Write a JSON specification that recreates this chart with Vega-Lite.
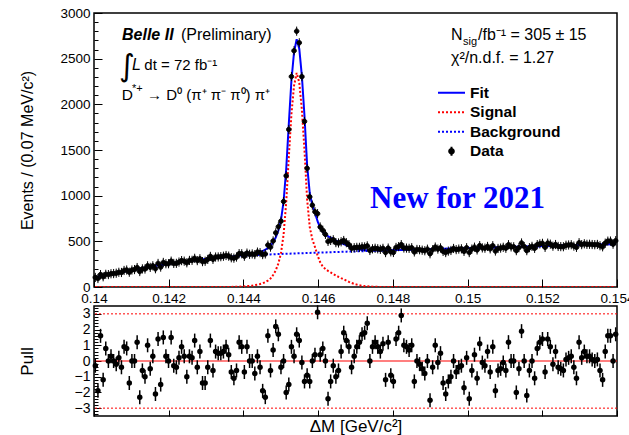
{
  "$schema": "https://vega.github.io/schema/vega-lite/v6.json",
  "background": "white",
  "padding": {"left": 17, "top": 5, "right": 0, "bottom": 0},
  "datasets": {
    "bins": [
      {"x":0.140035,"n":105,"p":-0.3,"Fit":108,"Signal":0,"Background":108},
      {"x":0.140105,"n":93,"p":-1.9,"Fit":113,"Signal":0,"Background":113},
      {"x":0.140175,"n":136,"p":1.6,"Fit":119,"Signal":0,"Background":119},
      {"x":0.140245,"n":112,"p":-1.2,"Fit":125,"Signal":0,"Background":125},
      {"x":0.140315,"n":139,"p":0.8,"Fit":130,"Signal":0,"Background":130},
      {"x":0.140385,"n":136,"p":0.0,"Fit":136,"Signal":0,"Background":136},
      {"x":0.140455,"n":145,"p":0.3,"Fit":141,"Signal":0,"Background":141},
      {"x":0.140525,"n":147,"p":0.0,"Fit":147,"Signal":0,"Background":147},
      {"x":0.140595,"n":151,"p":-0.2,"Fit":153,"Signal":0,"Background":153},
      {"x":0.140665,"n":161,"p":0.2,"Fit":158,"Signal":0,"Background":158},
      {"x":0.140735,"n":159,"p":-0.4,"Fit":164,"Signal":0,"Background":164},
      {"x":0.140805,"n":181,"p":0.9,"Fit":169,"Signal":0,"Background":169},
      {"x":0.140875,"n":186,"p":0.8,"Fit":175,"Signal":0,"Background":175},
      {"x":0.140945,"n":162,"p":-1.4,"Fit":181,"Signal":0,"Background":181},
      {"x":0.141015,"n":186,"p":0.0,"Fit":186,"Signal":0,"Background":186},
      {"x":0.141085,"n":191,"p":0.0,"Fit":191,"Signal":0,"Background":191},
      {"x":0.141155,"n":213,"p":1.2,"Fit":196,"Signal":0,"Background":196},
      {"x":0.141225,"n":169,"p":-2.3,"Fit":202,"Signal":0,"Background":202},
      {"x":0.141295,"n":198,"p":-0.6,"Fit":207,"Signal":0,"Background":207},
      {"x":0.141365,"n":197,"p":-1.0,"Fit":212,"Signal":0,"Background":212},
      {"x":0.141435,"n":232,"p":1.0,"Fit":217,"Signal":0,"Background":217},
      {"x":0.141505,"n":215,"p":-0.5,"Fit":222,"Signal":0,"Background":222},
      {"x":0.141575,"n":232,"p":0.3,"Fit":227,"Signal":0,"Background":227},
      {"x":0.141645,"n":200,"p":-2.1,"Fit":232,"Signal":0,"Background":232},
      {"x":0.141715,"n":258,"p":1.4,"Fit":236,"Signal":0,"Background":236},
      {"x":0.141785,"n":218,"p":-1.5,"Fit":241,"Signal":0,"Background":241},
      {"x":0.141855,"n":269,"p":1.5,"Fit":245,"Signal":0,"Background":245},
      {"x":0.141925,"n":255,"p":0.3,"Fit":250,"Signal":0,"Background":250},
      {"x":0.141995,"n":255,"p":0.0,"Fit":255,"Signal":0,"Background":255},
      {"x":0.142065,"n":283,"p":1.5,"Fit":259,"Signal":0,"Background":259},
      {"x":0.142135,"n":258,"p":-0.3,"Fit":263,"Signal":0,"Background":263},
      {"x":0.142205,"n":259,"p":-0.4,"Fit":266,"Signal":0,"Background":266},
      {"x":0.142275,"n":273,"p":0.2,"Fit":270,"Signal":0,"Background":270},
      {"x":0.142345,"n":289,"p":0.9,"Fit":274,"Signal":0,"Background":274},
      {"x":0.142415,"n":283,"p":0.3,"Fit":278,"Signal":0,"Background":278},
      {"x":0.142485,"n":265,"p":-1.0,"Fit":282,"Signal":0,"Background":282},
      {"x":0.142555,"n":291,"p":0.3,"Fit":286,"Signal":0,"Background":286},
      {"x":0.142625,"n":292,"p":0.2,"Fit":289,"Signal":0,"Background":289},
      {"x":0.142695,"n":314,"p":1.3,"Fit":292,"Signal":0,"Background":292},
      {"x":0.142765,"n":289,"p":-0.4,"Fit":296,"Signal":0,"Background":296},
      {"x":0.142835,"n":309,"p":0.6,"Fit":299,"Signal":0,"Background":299},
      {"x":0.142905,"n":278,"p":-1.4,"Fit":302,"Signal":0,"Background":302},
      {"x":0.142975,"n":282,"p":-1.4,"Fit":306,"Signal":0,"Background":306},
      {"x":0.143045,"n":302,"p":-0.4,"Fit":309,"Signal":0,"Background":309},
      {"x":0.143115,"n":335,"p":1.3,"Fit":312,"Signal":0,"Background":312},
      {"x":0.143185,"n":303,"p":-0.6,"Fit":314,"Signal":0,"Background":314},
      {"x":0.143255,"n":328,"p":0.6,"Fit":317,"Signal":0,"Background":317},
      {"x":0.143325,"n":329,"p":0.5,"Fit":320,"Signal":0,"Background":320},
      {"x":0.143395,"n":332,"p":0.5,"Fit":323,"Signal":0,"Background":323},
      {"x":0.143465,"n":337,"p":0.6,"Fit":326,"Signal":0,"Background":326},
      {"x":0.143535,"n":345,"p":0.9,"Fit":329,"Signal":1,"Background":328},
      {"x":0.143605,"n":338,"p":0.4,"Fit":331,"Signal":1,"Background":330},
      {"x":0.143675,"n":320,"p":-0.7,"Fit":333,"Signal":1,"Background":332},
      {"x":0.143745,"n":316,"p":-1.1,"Fit":336,"Signal":2,"Background":334},
      {"x":0.143815,"n":328,"p":-0.6,"Fit":339,"Signal":3,"Background":336},
      {"x":0.143885,"n":365,"p":1.2,"Fit":343,"Signal":4,"Background":339},
      {"x":0.143955,"n":364,"p":0.9,"Fit":347,"Signal":6,"Background":341},
      {"x":0.144025,"n":337,"p":-0.7,"Fit":350,"Signal":7,"Background":343},
      {"x":0.144095,"n":371,"p":0.9,"Fit":354,"Signal":10,"Background":344},
      {"x":0.144165,"n":358,"p":0.0,"Fit":358,"Signal":12,"Background":346},
      {"x":0.144235,"n":362,"p":0.0,"Fit":362,"Signal":15,"Background":347},
      {"x":0.144305,"n":355,"p":-0.8,"Fit":370,"Signal":21,"Background":349},
      {"x":0.144375,"n":382,"p":0.3,"Fit":376,"Signal":26,"Background":350},
      {"x":0.144445,"n":376,"p":-0.4,"Fit":384,"Signal":32,"Background":352},
      {"x":0.144515,"n":355,"p":-1.9,"Fit":393,"Signal":40,"Background":353},
      {"x":0.144585,"n":362,"p":-2.3,"Fit":408,"Signal":53,"Background":355},
      {"x":0.144655,"n":459,"p":1.6,"Fit":426,"Signal":70,"Background":356},
      {"x":0.144725,"n":437,"p":-0.6,"Fit":450,"Signal":93,"Background":357},
      {"x":0.144795,"n":504,"p":0.7,"Fit":489,"Signal":131,"Background":358},
      {"x":0.144865,"n":593,"p":2.2,"Fit":542,"Signal":182,"Background":360},
      {"x":0.144935,"n":660,"p":1.7,"Fit":618,"Signal":257,"Background":361},
      {"x":0.145005,"n":721,"p":-0.4,"Fit":732,"Signal":370,"Background":362},
      {"x":0.145075,"n":936,"p":0.0,"Fit":936,"Signal":573,"Background":363},
      {"x":0.145145,"n":1218,"p":-2.0,"Fit":1290,"Signal":926,"Background":364},
      {"x":0.145215,"n":1725,"p":-1.5,"Fit":1788,"Signal":1423,"Background":365},
      {"x":0.145285,"n":2304,"p":0.9,"Fit":2261,"Signal":1895,"Background":366},
      {"x":0.145355,"n":2587,"p":0.3,"Fit":2572,"Signal":2205,"Background":367},
      {"x":0.145425,"n":2801,"p":1.7,"Fit":2712,"Signal":2344,"Background":368},
      {"x":0.145495,"n":2674,"p":1.3,"Fit":2608,"Signal":2239,"Background":369},
      {"x":0.145565,"n":2303,"p":-0.1,"Fit":2308,"Signal":1938,"Background":370},
      {"x":0.145635,"n":1813,"p":-1.3,"Fit":1869,"Signal":1498,"Background":371},
      {"x":0.145705,"n":1299,"p":-0.9,"Fit":1332,"Signal":960,"Background":372},
      {"x":0.145775,"n":987,"p":-1.3,"Fit":1029,"Signal":656,"Background":373},
      {"x":0.145845,"n":896,"p":0.0,"Fit":896,"Signal":522,"Background":374},
      {"x":0.145915,"n":824,"p":0.4,"Fit":813,"Signal":438,"Background":375},
      {"x":0.145985,"n":803,"p":3.1,"Fit":720,"Signal":344,"Background":376},
      {"x":0.146055,"n":657,"p":0.4,"Fit":647,"Signal":270,"Background":377},
      {"x":0.146125,"n":621,"p":0.8,"Fit":601,"Signal":223,"Background":378},
      {"x":0.146195,"n":576,"p":0.0,"Fit":576,"Signal":197,"Background":379},
      {"x":0.146265,"n":499,"p":-2.4,"Fit":556,"Signal":176,"Background":380},
      {"x":0.146335,"n":510,"p":-1.3,"Fit":540,"Signal":159,"Background":381},
      {"x":0.146405,"n":517,"p":-0.3,"Fit":524,"Signal":142,"Background":382},
      {"x":0.146475,"n":486,"p":-1.0,"Fit":509,"Signal":126,"Background":383},
      {"x":0.146545,"n":482,"p":-0.6,"Fit":495,"Signal":111,"Background":384},
      {"x":0.146615,"n":495,"p":0.6,"Fit":482,"Signal":97,"Background":385},
      {"x":0.146685,"n":509,"p":1.8,"Fit":470,"Signal":84,"Background":386},
      {"x":0.146755,"n":485,"p":1.3,"Fit":457,"Signal":70,"Background":387},
      {"x":0.146825,"n":463,"p":0.9,"Fit":444,"Signal":56,"Background":388},
      {"x":0.146895,"n":425,"p":-0.4,"Fit":433,"Signal":44,"Background":389},
      {"x":0.146965,"n":430,"p":0.3,"Fit":424,"Signal":34,"Background":390},
      {"x":0.147035,"n":434,"p":0.9,"Fit":416,"Signal":26,"Background":390},
      {"x":0.147105,"n":434,"p":1.2,"Fit":410,"Signal":19,"Background":391},
      {"x":0.147175,"n":440,"p":1.7,"Fit":406,"Signal":14,"Background":392},
      {"x":0.147245,"n":439,"p":1.8,"Fit":403,"Signal":10,"Background":393},
      {"x":0.147315,"n":450,"p":2.4,"Fit":402,"Signal":8,"Background":394},
      {"x":0.147385,"n":400,"p":0.0,"Fit":400,"Signal":5,"Background":395},
      {"x":0.147455,"n":418,"p":0.9,"Fit":400,"Signal":4,"Background":396},
      {"x":0.147525,"n":424,"p":1.2,"Fit":400,"Signal":3,"Background":397},
      {"x":0.147595,"n":418,"p":0.9,"Fit":400,"Signal":2,"Background":398},
      {"x":0.147665,"n":412,"p":0.6,"Fit":400,"Signal":1,"Background":399},
      {"x":0.147735,"n":423,"p":1.1,"Fit":401,"Signal":1,"Background":400},
      {"x":0.147805,"n":377,"p":-1.2,"Fit":401,"Signal":0,"Background":401},
      {"x":0.147875,"n":426,"p":1.2,"Fit":402,"Signal":0,"Background":402},
      {"x":0.147945,"n":385,"p":-0.9,"Fit":403,"Signal":0,"Background":403},
      {"x":0.148015,"n":378,"p":-1.3,"Fit":404,"Signal":0,"Background":404},
      {"x":0.148085,"n":433,"p":1.4,"Fit":405,"Signal":0,"Background":405},
      {"x":0.148155,"n":442,"p":1.8,"Fit":406,"Signal":0,"Background":406},
      {"x":0.148225,"n":464,"p":2.9,"Fit":406,"Signal":0,"Background":406},
      {"x":0.148295,"n":427,"p":1.0,"Fit":407,"Signal":0,"Background":407},
      {"x":0.148365,"n":426,"p":0.9,"Fit":408,"Signal":0,"Background":408},
      {"x":0.148435,"n":423,"p":0.7,"Fit":409,"Signal":0,"Background":409},
      {"x":0.148505,"n":430,"p":1.0,"Fit":410,"Signal":0,"Background":410},
      {"x":0.148575,"n":384,"p":-1.3,"Fit":410,"Signal":0,"Background":410},
      {"x":0.148645,"n":411,"p":0.0,"Fit":411,"Signal":0,"Background":411},
      {"x":0.148715,"n":408,"p":-0.2,"Fit":412,"Signal":0,"Background":412},
      {"x":0.148785,"n":403,"p":-0.5,"Fit":413,"Signal":0,"Background":413},
      {"x":0.148855,"n":397,"p":-0.8,"Fit":413,"Signal":0,"Background":413},
      {"x":0.148925,"n":414,"p":0.0,"Fit":414,"Signal":0,"Background":414},
      {"x":0.148995,"n":364,"p":-2.5,"Fit":415,"Signal":0,"Background":415},
      {"x":0.149065,"n":408,"p":-0.4,"Fit":416,"Signal":0,"Background":416},
      {"x":0.149135,"n":437,"p":1.0,"Fit":417,"Signal":0,"Background":417},
      {"x":0.149205,"n":415,"p":-0.1,"Fit":417,"Signal":0,"Background":417},
      {"x":0.149275,"n":428,"p":0.5,"Fit":418,"Signal":0,"Background":418},
      {"x":0.149345,"n":390,"p":-1.4,"Fit":419,"Signal":0,"Background":419},
      {"x":0.149415,"n":377,"p":-2.1,"Fit":420,"Signal":0,"Background":420},
      {"x":0.149485,"n":393,"p":-1.3,"Fit":420,"Signal":0,"Background":420},
      {"x":0.149555,"n":400,"p":-1.0,"Fit":421,"Signal":0,"Background":421},
      {"x":0.149625,"n":422,"p":0.0,"Fit":422,"Signal":0,"Background":422},
      {"x":0.149695,"n":409,"p":-0.7,"Fit":423,"Signal":0,"Background":423},
      {"x":0.149765,"n":415,"p":-0.4,"Fit":423,"Signal":0,"Background":423},
      {"x":0.149835,"n":418,"p":-0.3,"Fit":424,"Signal":0,"Background":424},
      {"x":0.149905,"n":390,"p":-1.7,"Fit":425,"Signal":0,"Background":425},
      {"x":0.149975,"n":430,"p":0.2,"Fit":426,"Signal":0,"Background":426},
      {"x":0.150045,"n":377,"p":-2.4,"Fit":427,"Signal":0,"Background":427},
      {"x":0.150115,"n":415,"p":-0.6,"Fit":427,"Signal":0,"Background":427},
      {"x":0.150185,"n":436,"p":0.4,"Fit":428,"Signal":0,"Background":428},
      {"x":0.150255,"n":406,"p":-1.1,"Fit":429,"Signal":0,"Background":429},
      {"x":0.150325,"n":453,"p":1.1,"Fit":430,"Signal":0,"Background":430},
      {"x":0.150395,"n":428,"p":-0.1,"Fit":430,"Signal":0,"Background":430},
      {"x":0.150465,"n":425,"p":-0.3,"Fit":431,"Signal":0,"Background":431},
      {"x":0.150535,"n":444,"p":0.6,"Fit":432,"Signal":0,"Background":432},
      {"x":0.150605,"n":418,"p":-0.7,"Fit":433,"Signal":0,"Background":433},
      {"x":0.150675,"n":452,"p":0.9,"Fit":433,"Signal":0,"Background":433},
      {"x":0.150745,"n":394,"p":-1.9,"Fit":434,"Signal":0,"Background":434},
      {"x":0.150815,"n":422,"p":-0.6,"Fit":435,"Signal":0,"Background":435},
      {"x":0.150885,"n":426,"p":-0.5,"Fit":436,"Signal":0,"Background":436},
      {"x":0.150955,"n":435,"p":-0.1,"Fit":437,"Signal":0,"Background":437},
      {"x":0.151025,"n":424,"p":-0.6,"Fit":437,"Signal":0,"Background":437},
      {"x":0.151095,"n":463,"p":1.2,"Fit":438,"Signal":0,"Background":438},
      {"x":0.151165,"n":439,"p":0.0,"Fit":439,"Signal":0,"Background":439},
      {"x":0.151235,"n":440,"p":0.0,"Fit":440,"Signal":0,"Background":440},
      {"x":0.151305,"n":398,"p":-2.0,"Fit":440,"Signal":0,"Background":440},
      {"x":0.151375,"n":431,"p":-0.5,"Fit":441,"Signal":0,"Background":441},
      {"x":0.151445,"n":482,"p":1.9,"Fit":442,"Signal":0,"Background":442},
      {"x":0.151515,"n":443,"p":0.0,"Fit":443,"Signal":0,"Background":443},
      {"x":0.151585,"n":398,"p":-2.2,"Fit":444,"Signal":0,"Background":444},
      {"x":0.151655,"n":431,"p":-0.6,"Fit":444,"Signal":0,"Background":444},
      {"x":0.151725,"n":445,"p":0.0,"Fit":445,"Signal":0,"Background":445},
      {"x":0.151795,"n":423,"p":-1.1,"Fit":446,"Signal":0,"Background":446},
      {"x":0.151865,"n":464,"p":0.8,"Fit":447,"Signal":0,"Background":447},
      {"x":0.151935,"n":472,"p":1.2,"Fit":447,"Signal":0,"Background":447},
      {"x":0.152005,"n":478,"p":1.4,"Fit":448,"Signal":0,"Background":448},
      {"x":0.152075,"n":434,"p":-0.7,"Fit":449,"Signal":0,"Background":449},
      {"x":0.152145,"n":480,"p":1.4,"Fit":450,"Signal":0,"Background":450},
      {"x":0.152215,"n":469,"p":0.9,"Fit":450,"Signal":0,"Background":450},
      {"x":0.152285,"n":447,"p":-0.2,"Fit":451,"Signal":0,"Background":451},
      {"x":0.152355,"n":465,"p":0.6,"Fit":452,"Signal":0,"Background":452},
      {"x":0.152425,"n":444,"p":-0.4,"Fit":453,"Signal":0,"Background":453},
      {"x":0.152495,"n":442,"p":-0.5,"Fit":453,"Signal":0,"Background":453},
      {"x":0.152565,"n":441,"p":-0.6,"Fit":454,"Signal":0,"Background":454},
      {"x":0.152635,"n":457,"p":0.1,"Fit":455,"Signal":0,"Background":455},
      {"x":0.152705,"n":460,"p":0.2,"Fit":456,"Signal":0,"Background":456},
      {"x":0.152775,"n":463,"p":0.3,"Fit":457,"Signal":0,"Background":457},
      {"x":0.152845,"n":448,"p":-0.4,"Fit":457,"Signal":0,"Background":457},
      {"x":0.152915,"n":434,"p":-1.1,"Fit":458,"Signal":0,"Background":458},
      {"x":0.152985,"n":485,"p":1.2,"Fit":459,"Signal":0,"Background":459},
      {"x":0.153055,"n":464,"p":0.2,"Fit":460,"Signal":0,"Background":460},
      {"x":0.153125,"n":473,"p":0.6,"Fit":460,"Signal":0,"Background":460},
      {"x":0.153195,"n":467,"p":0.3,"Fit":461,"Signal":0,"Background":461},
      {"x":0.153265,"n":468,"p":0.3,"Fit":462,"Signal":0,"Background":462},
      {"x":0.153335,"n":465,"p":0.1,"Fit":463,"Signal":0,"Background":463},
      {"x":0.153405,"n":463,"p":0.0,"Fit":463,"Signal":0,"Background":463},
      {"x":0.153475,"n":466,"p":0.1,"Fit":464,"Signal":0,"Background":464},
      {"x":0.153545,"n":452,"p":-0.6,"Fit":465,"Signal":0,"Background":465},
      {"x":0.153615,"n":440,"p":-1.2,"Fit":466,"Signal":0,"Background":466},
      {"x":0.153685,"n":480,"p":0.6,"Fit":467,"Signal":0,"Background":467},
      {"x":0.153755,"n":502,"p":1.6,"Fit":467,"Signal":0,"Background":467},
      {"x":0.153825,"n":503,"p":1.6,"Fit":468,"Signal":0,"Background":468},
      {"x":0.153895,"n":469,"p":0.0,"Fit":469,"Signal":0,"Background":469},
      {"x":0.153965,"n":507,"p":1.7,"Fit":470,"Signal":0,"Background":470}
    ]
  },
  "vconcat": [
    {
      "width": 523,
      "height": 274,
      "data": {"name": "bins"},
      "resolve": {"axis": {"y": "independent"}},
      "layer": [
        {
          "transform": [{"fold": ["Background", "Signal", "Fit"], "as": ["series", "value"]}],
          "mark": {"type": "line", "strokeWidth": 2, "clip": true},
          "encoding": {
            "x": {
              "field": "x", "type": "quantitative",
              "scale": {"domain": [0.14, 0.154], "nice": false, "zero": false},
              "axis": {
                "title": null,
                "values": [0.14,0.1405,0.141,0.1415,0.142,0.1425,0.143,0.1435,0.144,0.1445,0.145,0.1455,0.146,0.1465,0.147,0.1475,0.148,0.1485,0.149,0.1495,0.15,0.1505,0.151,0.1515,0.152,0.1525,0.153,0.1535,0.154],
                "labelExpr": "round(datum.value*2000) % 4 === 0 ? format(datum.value, '.3~f') : ''",
                "tickSize": {"condition": {"test": "round(datum.value*2000) % 4 === 0", "value": -8}, "value": -5},
                "labelPadding": 12,
                "labelOverlap": false
              }
            },
            "y": {
              "field": "value", "type": "quantitative",
              "scale": {"domain": [0, 3000], "nice": false},
              "axis": {
                "orient": "left",
                "title": "Events / (0.07 MeV/c²)",
                "titleFontSize": 16,
                "values": [0, 500, 1000, 1500, 2000, 2500, 3000],
                "format": "d",
                "tickSize": -8,
                "labelPadding": 12,
                "labelOverlap": false,
                "titleX": -67,
                "titleBaseline": "middle"
              }
            },
            "color": {
              "field": "series", "type": "nominal",
              "scale": {"domain": ["Fit", "Signal", "Background", "Data"], "range": ["#0000ff", "#ff0000", "#0000ff", "#000000"]},
              "legend": {"title": null, "orient": "none", "legendX": 343, "legendY": 72, "padding": 0, "symbolSize": 729, "symbolStrokeWidth": 2, "labelFontSize": 15.5, "labelFontWeight": "bold", "labelFont": "Liberation Sans", "labelColor": "#000", "labelOffset": 4, "rowPadding": 2.5, "clipHeight": 15.5}
            },
            "strokeDash": {
              "field": "series", "type": "nominal",
              "scale": {"domain": ["Fit", "Signal", "Background", "Data"], "range": [[1, 0], [2, 2], [2, 2], [1, 0]]},
              "legend": {"title": null, "orient": "none", "legendX": 343, "legendY": 72, "padding": 0, "symbolSize": 729, "symbolStrokeWidth": 2, "labelFontSize": 15.5, "labelFontWeight": "bold", "labelFont": "Liberation Sans", "labelColor": "#000", "labelOffset": 4, "rowPadding": 2.5, "clipHeight": 15.5}
            }
          }
        },
        {
          "mark": {"type": "point", "filled": true, "size": 729, "stroke": "#000000", "strokeWidth": 1, "opacity": 1},
          "encoding": {
            "x": {"field": "x", "type": "quantitative"},
            "y": {
              "field": "n", "type": "quantitative",
              "axis": {
                "orient": "left",
                "title": null,
                "labels": false,
                "values": [100,200,300,400,600,700,800,900,1100,1200,1300,1400,1600,1700,1800,1900,2100,2200,2300,2400,2600,2700,2800,2900],
                "tickSize": -4
              }
            },
            "color": {"datum": "Data"},
            "shape": {
              "datum": "Data",
              "scale": {"domain": ["Fit", "Signal", "Background", "Data"], "range": ["stroke", "stroke", "stroke", "M0,-0.34L0,0.34M-0.17,0A0.17,0.17 0 1,1 0.17,0A0.17,0.17 0 1,1 -0.17,0Z"]},
              "legend": {"title": null, "orient": "none", "legendX": 343, "legendY": 72, "padding": 0, "symbolSize": 729, "symbolStrokeWidth": 2, "labelFontSize": 15.5, "labelFontWeight": "bold", "labelFont": "Liberation Sans", "labelColor": "#000", "labelOffset": 4, "rowPadding": 2.5, "clipHeight": 15.5}
            }
          }
        },
        {
          "data": {"values": [{}]},
          "mark": {"type": "text", "text": "Belle II", "align": "left", "baseline": "alphabetic", "font": "Liberation Sans", "fontSize": 16, "fontWeight": "bold", "fontStyle": "italic", "color": "#000"},
          "encoding": {"x": {"datum": 0.14075, "type": "quantitative"}, "y": {"datum": 2699, "type": "quantitative", "axis": null}}
        },
        {
          "data": {"values": [{}]},
          "mark": {"type": "text", "text": "(Preliminary)", "align": "left", "baseline": "alphabetic", "font": "Liberation Sans", "fontSize": 16, "color": "#000"},
          "encoding": {"x": {"datum": 0.142329, "type": "quantitative"}, "y": {"datum": 2699, "type": "quantitative", "axis": null}}
        },
        {
          "data": {"values": [{}]},
          "mark": {"type": "text", "text": "∫", "align": "left", "baseline": "alphabetic", "font": "DejaVu Sans", "fontSize": 30.5, "color": "#000"},
          "encoding": {"x": {"datum": 0.14067, "type": "quantitative"}, "y": {"datum": 2315, "type": "quantitative", "axis": null}}
        },
        {
          "data": {"values": [{}]},
          "mark": {"type": "text", "text": "L", "align": "left", "baseline": "alphabetic", "font": "Liberation Sans", "fontSize": 16, "fontStyle": "italic", "color": "#000"},
          "encoding": {"x": {"datum": 0.141017, "type": "quantitative"}, "y": {"datum": 2381, "type": "quantitative", "axis": null}}
        },
        {
          "data": {"values": [{}]},
          "mark": {"type": "text", "text": "dt = 72 fb⁻¹", "align": "left", "baseline": "alphabetic", "font": "Liberation Sans", "fontSize": 15, "color": "#000"},
          "encoding": {"x": {"datum": 0.141346, "type": "quantitative"}, "y": {"datum": 2381, "type": "quantitative", "axis": null}}
        },
        {
          "data": {"values": [{}]},
          "mark": {"type": "text", "text": "D", "align": "left", "baseline": "alphabetic", "font": "Liberation Sans", "fontSize": 15.5, "color": "#000"},
          "encoding": {"x": {"datum": 0.140741, "type": "quantitative"}, "y": {"datum": 2044, "type": "quantitative", "axis": null}}
        },
        {
          "data": {"values": [{}]},
          "mark": {"type": "text", "text": "*+", "align": "left", "baseline": "alphabetic", "font": "Liberation Sans", "fontSize": 11, "color": "#000"},
          "encoding": {"x": {"datum": 0.141017, "type": "quantitative"}, "y": {"datum": 2135, "type": "quantitative", "axis": null}}
        },
        {
          "data": {"values": [{}]},
          "mark": {"type": "text", "text": "→ D⁰ (π⁺ π⁻ π⁰) π⁺", "align": "left", "baseline": "alphabetic", "font": "Liberation Sans", "fontSize": 15, "color": "#000"},
          "encoding": {"x": {"datum": 0.141419, "type": "quantitative"}, "y": {"datum": 2044, "type": "quantitative", "axis": null}}
        },
        {
          "data": {"values": [{}]},
          "mark": {"type": "text", "text": "N", "align": "left", "baseline": "alphabetic", "font": "Liberation Sans", "fontSize": 16, "color": "#000"},
          "encoding": {"x": {"datum": 0.149556, "type": "quantitative"}, "y": {"datum": 2701, "type": "quantitative", "axis": null}}
        },
        {
          "data": {"values": [{}]},
          "mark": {"type": "text", "text": "sig", "align": "left", "baseline": "alphabetic", "font": "Liberation Sans", "fontSize": 11, "color": "#000"},
          "encoding": {"x": {"datum": 0.149878, "type": "quantitative"}, "y": {"datum": 2650, "type": "quantitative", "axis": null}}
        },
        {
          "data": {"values": [{}]},
          "mark": {"type": "text", "text": "/fb⁻¹ = 305 ± 15", "align": "left", "baseline": "alphabetic", "font": "Liberation Sans", "fontSize": 16, "color": "#000"},
          "encoding": {"x": {"datum": 0.150279, "type": "quantitative"}, "y": {"datum": 2701, "type": "quantitative", "axis": null}}
        },
        {
          "data": {"values": [{}]},
          "mark": {"type": "text", "text": "χ²/n.d.f. = 1.27", "align": "left", "baseline": "alphabetic", "font": "Liberation Sans", "fontSize": 16, "color": "#000"},
          "encoding": {"x": {"datum": 0.149556, "type": "quantitative"}, "y": {"datum": 2456, "type": "quantitative", "axis": null}}
        },
        {
          "data": {"values": [{}]},
          "mark": {"type": "text", "text": "New for 2021", "align": "left", "baseline": "alphabetic", "font": "Liberation Serif", "fontSize": 31, "fontWeight": "bold", "color": "#0000ff"},
          "encoding": {"x": {"datum": 0.147388, "type": "quantitative"}, "y": {"datum": 865, "type": "quantitative", "axis": null}}
        }
      ]
    },
    {
      "width": 523,
      "height": 110,
      "resolve": {"axis": {"y": "independent"}},
      "layer": [
        {
          "data": {"values": [{}]},
          "mark": {"type": "rule", "color": "#ff0000", "strokeWidth": 1.2},
          "encoding": {"y": {"datum": 0, "type": "quantitative", "axis": null}}
        },
        {
          "data": {"values": [{}]},
          "mark": {"type": "rule", "color": "#ff0000", "strokeWidth": 1, "strokeDash": [2, 2]},
          "encoding": {"y": {"datum": 3, "type": "quantitative", "axis": null}}
        },
        {
          "data": {"values": [{}]},
          "mark": {"type": "rule", "color": "#ff0000", "strokeWidth": 1, "strokeDash": [2, 2]},
          "encoding": {"y": {"datum": -3, "type": "quantitative", "axis": null}}
        },
        {
          "data": {"name": "bins"},
          "mark": {"type": "tick", "orient": "vertical", "color": "#000000", "thickness": 1.5, "size": 14, "opacity": 1},
          "encoding": {
            "x": {
              "field": "x", "type": "quantitative",
              "scale": {"domain": [0.14, 0.154], "nice": false, "zero": false},
              "axis": {
                "title": "ΔM [GeV/c²]",
                "labels": false,
                "values": [0.14,0.1405,0.141,0.1415,0.142,0.1425,0.143,0.1435,0.144,0.1445,0.145,0.1455,0.146,0.1465,0.147,0.1475,0.148,0.1485,0.149,0.1495,0.15,0.1505,0.151,0.1515,0.152,0.1525,0.153,0.1535,0.154],
                "tickSize": {"condition": {"test": "round(datum.value*2000) % 4 === 0", "value": -6}, "value": -4},
                "titlePadding": 2
              }
            },
            "y": {
              "field": "p", "type": "quantitative",
              "scale": {"domain": [-3.5, 3.5], "nice": false, "zero": false},
              "axis": {
                "orient": "left",
                "title": "Pull",
                "values": [-3, -2, -1, 0, 1, 2, 3],
                "format": "d",
                "labelFontSize": 14,
                "tickSize": -7,
                "labelPadding": 11,
                "labelOverlap": false,
                "labelSeparation": -100,
                "titleX": -67,
                "titleBaseline": "middle"
              }
            }
          }
        },
        {
          "data": {"name": "bins"},
          "mark": {"type": "circle", "color": "#000000", "size": 30, "opacity": 1},
          "encoding": {
            "x": {"field": "x", "type": "quantitative"},
            "y": {
              "field": "p", "type": "quantitative",
              "axis": {
                "orient": "left",
                "title": null,
                "labels": false,
                "values": [-3.4,-3.2,-2.8,-2.6,-2.4,-2.2,-1.8,-1.6,-1.4,-1.2,-0.8,-0.6,-0.4,-0.2,0.2,0.4,0.6,0.8,1.2,1.4,1.6,1.8,2.2,2.4,2.6,2.8,3.2,3.4],
                "tickSize": -4
              }
            }
          }
        }
      ]
    }
  ],
  "spacing": -7,
  "config": {
    "font": "Liberation Sans",
    "view": {"stroke": "#000000", "strokeWidth": 1.5},
    "axis": {
      "domain": false,
      "grid": false,
      "tickColor": "#000000",
      "tickWidth": 1,
      "labelColor": "#000000",
      "titleColor": "#000000",
      "labelFont": "Liberation Sans",
      "titleFont": "Liberation Sans",
      "labelFontSize": 13.5,
      "titleFontSize": 17,
      "titleFontWeight": "normal",
      "labelOverlap": false,
      "labelFlush": false
    }
  }
}
